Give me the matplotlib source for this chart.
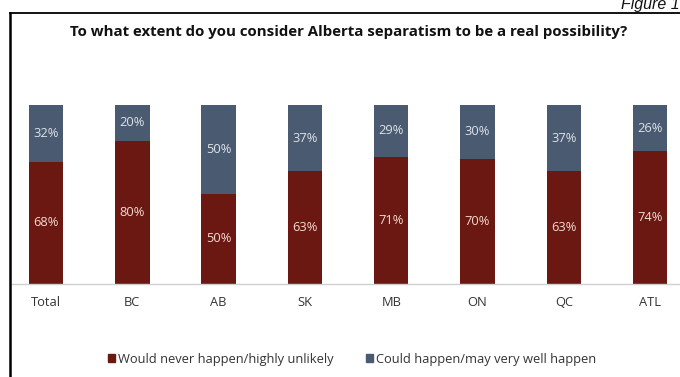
import matplotlib.pyplot as plt
from matplotlib.lines import Line2D
from matplotlib.patches import Patch

regions = ["Total", "BC", "AB", "SK", "MB", "ON", "QC", "ATL"]
never = [68, 80, 50, 63, 71, 70, 63, 74]
could = [32, 20, 50, 37, 29, 30, 37, 26]

RED = "#6B1712"
BLUE = "#4A5A70"
W, H = 680, 377

fig = plt.figure(figsize=(W / 100, H / 100), dpi=100)
plt.rcParams["font.family"] = ["Open Sans", "DejaVu Sans"]

# axes placed in pixel terms: left 10px, right 680px, top 105px, bottom 283.5px
ax = fig.add_axes([10 / W, 1 - 283.5 / H, 670 / W, (283.5 - 105) / H])
x = range(len(regions))
ax.bar(x, never, width=0.4, color=RED)
ax.bar(x, could, width=0.4, bottom=never, color=BLUE)

for i in x:
    ax.text(i, never[i] / 2, "%d%%" % never[i], ha="center", va="center",
            color="#F2DCD2", fontsize=9.3)
    ax.text(i, never[i] + could[i] / 2, "%d%%" % could[i], ha="center",
            va="center", color="#DDE3EA", fontsize=9.3)

ax.set_xlim(-0.417, 7.346)
ax.set_ylim(0, 100)
ax.set_xticks(list(x))
ax.set_xticklabels(regions, fontsize=9.3, color="#333333")
ax.tick_params(axis="x", length=0, pad=9)
ax.set_yticks([])
for s in ["top", "right", "left"]:
    ax.spines[s].set_visible(False)
ax.spines["bottom"].set_color("#D0D0D0")
ax.spines["bottom"].set_linewidth(1)

fig.text(349 / W, 1 - 32 / H,
         "To what extent do you consider Alberta separatism to be a real possibility?",
         ha="center", va="center", fontsize=10.8, fontweight="bold", color="#111111")
fig.text(680 / W, 1 - 4 / H, "Figure 1", ha="right", va="center",
         fontsize=11.5, style="italic", family="Liberation Sans", color="#111111")

handles = [Patch(color=RED, label="Would never happen/highly unlikely"),
           Patch(color=BLUE, label="Could happen/may very well happen")]
fig.legend(handles=handles, loc="center", bbox_to_anchor=(352 / W, 1 - 359 / H),
           ncol=2, frameon=False, fontsize=9.3, handlelength=0.55, handleheight=0.55,
           handletextpad=0.25, columnspacing=2.5, labelcolor="#333333")

# frame around the chart: left and top edges only
fig.add_artist(Line2D([10 / W, 10 / W], [0, 1 - 13 / H], color="black", lw=1.8))
fig.add_artist(Line2D([10 / W, 1], [1 - 13 / H, 1 - 13 / H], color="black", lw=1.3))

fig.savefig("out.png", dpi=100)
